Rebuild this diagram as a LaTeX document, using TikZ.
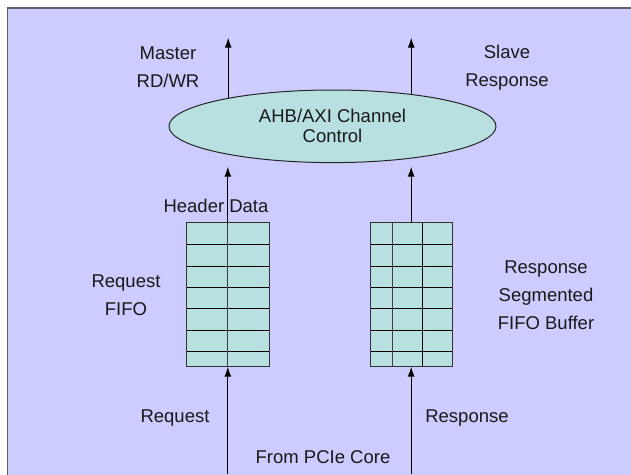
\documentclass[tikz,border=0pt]{standalone}
\usepackage{fontspec}
\setmainfont{Liberation Sans}
\usetikzlibrary{arrows.meta,shapes.geometric}
\definecolor{bg}{RGB}{204,204,255}
\definecolor{cell}{RGB}{185,224,225}
\definecolor{framec}{RGB}{95,95,105}
\begin{document}
\begin{tikzpicture}[x=1pt,y=-1pt,
  lbl/.style={font=\fontsize{18.5}{28}\selectfont, align=center, inner sep=0, text=black!90},
  arr/.style={-{Latex[length=10pt,width=7pt]}, line width=1.1pt, black},
  fifo/.style={draw=black!80, fill=cell, line width=0.9pt, inner sep=0, outer sep=0},
  gridl/.style={line width=0.9pt, black},
  divl/.style={line width=0.9pt, black!75}]
\useasboundingbox (0,0) rectangle (631,474);
\fill[white] (0,0) rectangle (631,474);
\path[fill=bg, draw=framec, line width=1.3pt] (7.5,8) rectangle (650,500);

% ellipse
\node[ellipse, draw=black!85, fill=cell, line width=1pt, minimum width=327pt, minimum height=72.6pt,
      inner sep=0, outer sep=0, font=\fontsize{18.5}{20}\selectfont, align=center, text=black!90] (ell) at (332.5,126.3)
      {AHB/AXI Channel\\Control};

% FIFO boxes
\node[fifo, minimum width=82.3pt, minimum height=144pt] (lbox) at (227.85,294.7) {};
\node[fifo, minimum width=82.3pt, minimum height=144pt] (rbox) at (411.15,294.7) {};
\foreach \yy in {244.3,266,287.3,308.3,330.3,351.7} {
  \draw[gridl] (186.7,\yy) -- (269,\yy);
  \draw[gridl] (370,\yy) -- (452.3,\yy);
}
\draw[divl] (lbox.north) -- (lbox.south);
\draw[divl] (392,222.7) -- (392,366.7);
\draw[gridl] (422.5,222.7) -- (422.5,366.7);
\node[fifo, minimum width=82.3pt, minimum height=144pt, fill=none] (lbox2) at (227.85,294.7) {};
\node[fifo, minimum width=82.3pt, minimum height=144pt, fill=none] (rbox2) at (411.15,294.7) {};

% free ends
\coordinate (t1) at (228,37.7);
\coordinate (b1) at (228,166.7);
\coordinate (s1) at (227.85,474);
\coordinate (s2) at (411.15,474);

% arrows
\draw[arr] (ell.165) -- (ell.165 |- t1);
\draw[arr] (ell.22) -- (ell.22 |- t1);
\draw[arr] (lbox.north) -- (lbox.north |- b1);
\draw[arr] (rbox.north) -- (rbox.north |- b1);
\draw[arr] (s1) -- (lbox.south);
\draw[arr] (s2) -- (rbox.south);

% labels
\node[lbl] (mst) at (168,67.5) {Master\\RD/WR};
\node[lbl] (slv) at (507,67.5) {Slave\\Response};
\node[lbl] (hd) at (216,206) {Header Data};
\node[lbl] (rqf) at (126,295) {Request\\FIFO};
\node[lbl] (rsf) at (546,295) {Response\\Segmented\\FIFO Buffer};
\node[lbl] (rq) at (175,418) {Request};
\node[lbl] (rs) at (467,418) {Response};
\node[lbl] (pc) at (323,457.5) {From PCIe Core};
\end{tikzpicture}
\end{document}
